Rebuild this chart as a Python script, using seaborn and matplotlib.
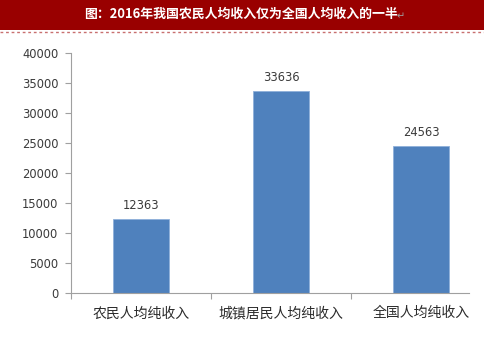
import matplotlib
matplotlib.use("Agg")
import matplotlib.pyplot as plt
import seaborn as sns
import pandas as pd
from matplotlib.patches import Rectangle
from matplotlib.lines import Line2D

categories = ["农民人均纯收入", "城镇居民人均纯收入", "全国人均纯收入"]
values = [12363, 33636, 24563]
yticks = [0, 5000, 10000, 15000, 20000, 25000, 30000, 35000, 40000]
title = "图：2016年我国农民人均收入仅为全国人均收入的一半"

sns.set_theme(style="white")
plt.rcParams['font.family'] = ['Noto Sans CJK SC', 'DejaVu Sans']

W, H = 484, 344
fig = plt.figure(figsize=(W / 100, H / 100), dpi=100)
fig.patch.set_facecolor("white")

# title bar
fig.patches.append(Rectangle((0, 1 - 30 / H), 1, 30 / H, transform=fig.transFigure,
                             facecolor="#990000", edgecolor="none", zorder=0))
fig.lines.append(Line2D([0, 1], [1 - 31.5 / H] * 2, transform=fig.transFigure,
                        color="#c87070", lw=1, linestyle=(0, (2, 2))))
fig.text(241 / W, 1 - 13.5 / H, title, color="white", fontsize=9.3, fontweight="bold",
         ha="center", va="center")
fig.text(397 / W, 1 - 16 / H, "↵", color="#a0a0a0", fontsize=7, ha="left", va="center",
         family=['DejaVu Sans'])

left, right = 71 / W, 469 / W
bottom, top = (H - 292.5) / H, (H - 53.3) / H
ax = fig.add_axes([left, bottom, right - left, top - bottom])

df = pd.DataFrame({"cat": categories, "val": values})
sns.barplot(data=df, x="cat", y="val", order=categories, color="#4F81BD",
            saturation=1, width=0.4, ax=ax, edgecolor="#8fb0da", linewidth=0.6)

ax.set_xlim(-0.5, 2.343)
ax.set_ylim(0, 40000)
ax.set_yticks(yticks)
ax.set_yticklabels([str(v) for v in yticks], family=['DejaVu Sans'])
ax.set_xlabel("")
ax.set_ylabel("")

for s in ["top", "right"]:
    ax.spines[s].set_visible(False)
for s in ["left", "bottom"]:
    ax.spines[s].set_color("#a0a0a0")
    ax.spines[s].set_linewidth(0.8)

ax.tick_params(axis="y", which="major", length=4, width=0.8, color="#a0a0a0",
               labelsize=8.3, labelcolor="#3a3a3a", pad=5, left=True, direction="out")
ax.set_xticks([0, 1, 2])
ax.set_xticklabels(categories)
ax.tick_params(axis="x", which="major", length=0, labelsize=10, labelcolor="#2a2a2a", pad=10)
ax.set_xticks([-0.5, 0.5, 1.5], minor=True)
ax.tick_params(axis="x", which="minor", length=4, width=0.8, color="#a0a0a0", bottom=True,
               direction="out")

for i, v in enumerate(values):
    ax.annotate(str(v), (i, v), xytext=(0, 9.7), textcoords="offset points",
                ha="center", va="center", fontsize=8.3, color="#3a3a3a",
                family=['DejaVu Sans'])

fig.savefig("out.png", dpi=100)
